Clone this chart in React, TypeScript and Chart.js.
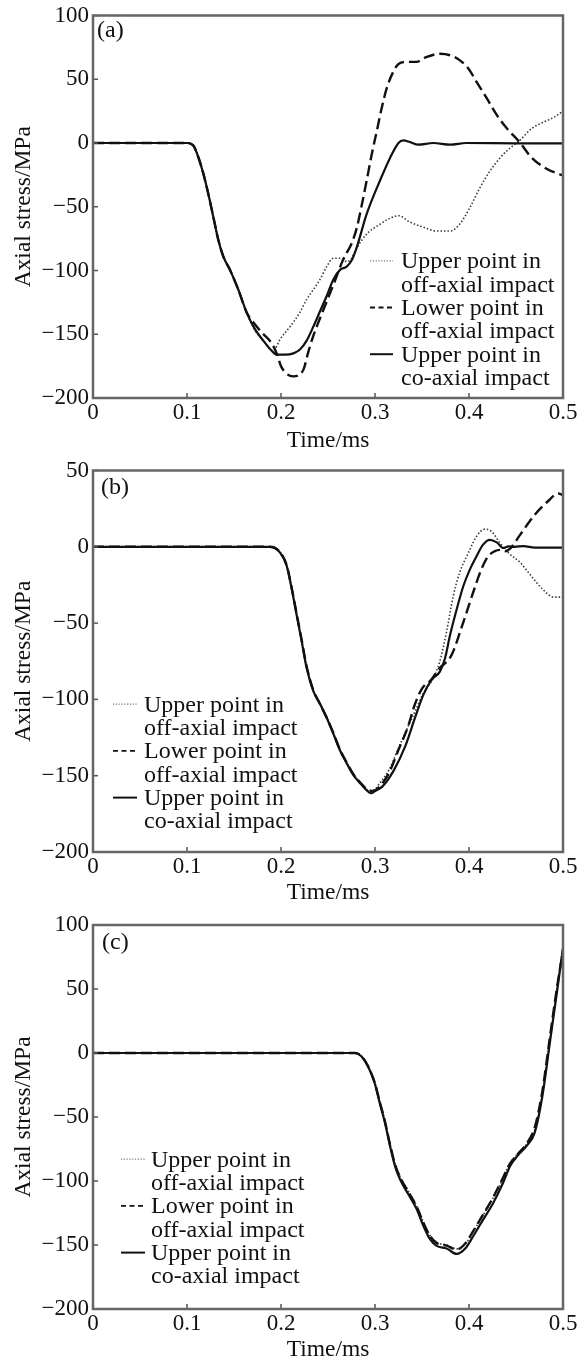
import React, { useEffect, useRef } from "react";
import { Chart, registerables } from "chart.js";

Chart.register(...registerables);

type Pt = [number, number];

const FONT = "'Liberation Serif', 'Times New Roman', serif";

const X_TICKS = [0, 0.1, 0.2, 0.3, 0.4, 0.5];
const X_TITLE = "Time/ms";
const Y_TITLE = "Axial stress/MPa";
const LEGEND_TEXT: [string, string][] = [
  ["Upper point in", "off-axial impact"],
  ["Lower point in", "off-axial impact"],
  ["Upper point in", "co-axial impact"],
];
const PANEL_LABELS = ["(a)", "(b)", "(c)"];

// ---------- Panel (a) ----------
const A_UP_OFF: Pt[] = [
  [0, 0], [0.05, 0], [0.1, 0], [0.1067, -2], [0.112, -11], [0.1174, -24], [0.1227, -40],
  [0.128, -58], [0.1333, -76], [0.1386, -89], [0.1457, -99.5], [0.1546, -115], [0.1635, -133],
  [0.1723, -147], [0.18, -154], [0.1918, -163], [0.199, -154], [0.2096, -144], [0.22, -133],
  [0.227, -123], [0.2344, -115], [0.2415, -107], [0.2486, -97], [0.2557, -90.4], [0.2628, -90.4],
  [0.27, -93], [0.2745, -91], [0.28, -83], [0.291, -71.5], [0.3053, -63.7], [0.316, -59],
  [0.325, -57], [0.337, -62], [0.3514, -66], [0.3656, -69], [0.38, -69], [0.39, -63.7],
  [0.401, -50.6], [0.4117, -35], [0.4223, -22], [0.433, -11.7], [0.442, -5], [0.454, 2],
  [0.466, 11], [0.478, 16], [0.49, 20], [0.5, 25],
];
const A_LOW_OFF: Pt[] = [
  [0, 0], [0.05, 0], [0.1, 0], [0.1067, -2], [0.112, -11], [0.1174, -24], [0.1227, -40],
  [0.128, -58], [0.1333, -76], [0.1386, -89], [0.1457, -99.5], [0.1546, -115], [0.1635, -133],
  [0.172, -142], [0.18, -149], [0.19, -157], [0.1954, -165], [0.2, -175], [0.206, -181],
  [0.213, -183], [0.2237, -178], [0.229, -164], [0.234, -152], [0.238, -144], [0.245, -131],
  [0.252, -118], [0.259, -105], [0.2646, -94], [0.27, -86], [0.275, -79], [0.2805, -67],
  [0.285, -52], [0.291, -30], [0.2965, -9], [0.3018, 9], [0.307, 27], [0.3125, 43],
  [0.3195, 56], [0.325, 62], [0.3337, 63.6], [0.344, 63.6], [0.355, 67.5], [0.369, 70],
  [0.38, 68.8], [0.39, 65], [0.3993, 58.4], [0.408, 48], [0.419, 35], [0.4295, 22],
  [0.44, 11.7], [0.454, 0.5], [0.466, -11], [0.482, -20], [0.5, -25.5],
];
const A_CO: Pt[] = [
  [0, 0], [0.05, 0], [0.1, 0], [0.1067, -2], [0.112, -11], [0.1174, -24], [0.1227, -40],
  [0.128, -58], [0.1333, -76], [0.1386, -89], [0.1457, -99.5], [0.1546, -115], [0.1635, -133],
  [0.1723, -146], [0.1812, -155], [0.1901, -163], [0.1954, -166], [0.205, -166], [0.2131, -165],
  [0.2202, -162], [0.2273, -155], [0.2344, -144], [0.2415, -132], [0.2486, -120], [0.2557, -107],
  [0.2628, -99.5], [0.2699, -97], [0.2752, -92], [0.2805, -82], [0.291, -56], [0.305, -30],
  [0.316, -11.7], [0.325, 0], [0.33, 2], [0.337, 0.8], [0.346, -1.3], [0.362, 0], [0.38, -1.3],
  [0.397, 0], [0.45, -0.3], [0.5, -0.3],
];

// ---------- Panel (b) ----------
const B_UP_OFF: Pt[] = [
  [0, 0], [0.1, 0], [0.188, 0], [0.199, -3.5], [0.206, -12], [0.2114, -27], [0.2167, -44.5],
  [0.222, -61.5], [0.2273, -79], [0.2344, -94], [0.2415, -102.5], [0.2486, -111.5],
  [0.2557, -122], [0.2628, -133], [0.27, -141.5], [0.277, -149], [0.2858, -155.5],
  [0.2929, -159.5], [0.298, -159.5], [0.305, -155], [0.315, -146], [0.325, -132], [0.335, -118],
  [0.3426, -108], [0.3514, -96], [0.362, -86], [0.369, -75], [0.376, -56], [0.383, -33],
  [0.39, -17], [0.3993, -4], [0.408, 6.8], [0.417, 11.6], [0.424, 10], [0.433, 2.5],
  [0.442, -4], [0.4545, -10.3], [0.466, -19], [0.478, -27.6], [0.49, -33], [0.5, -33],
];
const B_LOW_OFF: Pt[] = [
  [0, 0], [0.1, 0], [0.188, 0], [0.199, -3.5], [0.206, -12], [0.2114, -27], [0.2167, -44],
  [0.222, -61], [0.2273, -78.5], [0.2344, -94], [0.2415, -103], [0.2486, -112], [0.2557, -122],
  [0.2628, -133], [0.27, -141.5], [0.277, -149], [0.2858, -155.5], [0.2929, -159.5],
  [0.298, -160], [0.305, -157], [0.315, -148], [0.325, -133], [0.335, -118], [0.342, -104],
  [0.35, -93], [0.36, -87], [0.368, -80], [0.3814, -71], [0.392, -53], [0.399, -40],
  [0.406, -27], [0.413, -15], [0.42, -6.5], [0.427, -3], [0.433, -2], [0.438, -3],
  [0.444, -1], [0.4545, 8], [0.47, 21], [0.486, 31], [0.494, 35], [0.5, 34],
];
const B_CO: Pt[] = [
  [0, 0], [0.1, 0], [0.188, 0], [0.199, -3.8], [0.206, -12.4], [0.2114, -27.6], [0.2167, -44.9],
  [0.222, -62], [0.2273, -79.5], [0.2344, -94.6], [0.2415, -103], [0.2486, -112],
  [0.2557, -122.6], [0.2628, -133.5], [0.27, -142], [0.277, -149.7], [0.2858, -156],
  [0.2929, -160.5], [0.296, -161.5], [0.3, -160], [0.308, -157], [0.32, -146.5], [0.332, -131],
  [0.3426, -112], [0.3514, -97], [0.3603, -87], [0.369, -81.8], [0.3745, -73], [0.3798, -58],
  [0.387, -40.8], [0.394, -25.7], [0.401, -14.8], [0.408, -6.2], [0.415, 1.4], [0.422, 4.6],
  [0.4295, 2.9], [0.4365, -0.8], [0.442, 0.3], [0.4485, 0], [0.458, 0.5], [0.47, -0.5],
  [0.5, -0.5],
];

// ---------- Panel (c) ----------
const C_UP_OFF: Pt[] = [
  [0, 0], [0.1, 0], [0.2, 0], [0.2787, 0], [0.2855, -2.4], [0.2925, -10], [0.2996, -22.5],
  [0.305, -37.5], [0.3106, -53], [0.316, -71], [0.3213, -86.5], [0.3266, -96.5], [0.3355, -108],
  [0.3443, -119.5], [0.3514, -132], [0.3585, -142.5], [0.3656, -148], [0.3762, -150],
  [0.3869, -153], [0.3957, -149.5], [0.4046, -139.5], [0.4152, -126.5], [0.4259, -113],
  [0.4365, -97.5], [0.4436, -86], [0.452, -78.5], [0.462, -70.5], [0.47, -60], [0.478, -32],
  [0.486, 10], [0.494, 52], [0.5, 84],
];
const C_LOW_OFF: Pt[] = [
  [0, 0], [0.1, 0], [0.2, 0], [0.2787, 0], [0.2855, -2.5], [0.2925, -10.2], [0.2996, -23],
  [0.305, -38], [0.3106, -53.5], [0.316, -71.5], [0.3213, -87], [0.3266, -97], [0.3355, -108.5],
  [0.3443, -120], [0.3514, -132.5], [0.3585, -143], [0.3656, -148.5], [0.3762, -150.5],
  [0.3869, -153.5], [0.3957, -149], [0.4046, -139], [0.4152, -126], [0.4259, -112.5],
  [0.4365, -97], [0.4436, -86.5], [0.452, -79], [0.462, -70], [0.47, -58], [0.478, -30],
  [0.486, 12], [0.494, 53], [0.5, 80],
];
const C_CO: Pt[] = [
  [0, 0], [0.1, 0], [0.2, 0], [0.2787, 0], [0.2855, -2.6], [0.2925, -10.4], [0.2996, -23.4],
  [0.305, -39], [0.3106, -54.5], [0.316, -72.8], [0.3213, -88.4], [0.3266, -98.7],
  [0.3355, -110.4], [0.3443, -122], [0.3514, -135], [0.3585, -145.5], [0.3656, -150.7],
  [0.3762, -152.7], [0.3869, -157], [0.3957, -153], [0.4046, -143], [0.4152, -130],
  [0.4259, -117], [0.4365, -101], [0.4436, -88.4], [0.452, -80], [0.462, -72], [0.47, -62],
  [0.478, -34], [0.486, 8], [0.494, 50], [0.5, 82],
];

// ---------- layout / styles ----------
type PanelCfg = {
  label: string;
  series: Pt[][];
  yMin: number;
  yMax: number;
  top: number;
  height: number;
  padTop: number;
  xAxisH: number;
  titlePb: number;
  labelX: number;
  labelY: number;
  legX0: number;
  legX1: number;
  legTx: number;
  legBase: number;
};

const PANELS: PanelCfg[] = [
  {
    label: PANEL_LABELS[0], series: [A_UP_OFF, A_LOW_OFF, A_CO], yMin: -200, yMax: 100,
    top: 0, height: 455, padTop: 14, xAxisH: 57, titlePb: 2,
    labelX: 97, labelY: 37, legX0: 370, legX1: 393, legTx: 401, legBase: 268.3,
  },
  {
    label: PANEL_LABELS[1], series: [B_UP_OFF, B_LOW_OFF, B_CO], yMin: -200, yMax: 50,
    top: 455, height: 450, padTop: 12, xAxisH: 53, titlePb: 0,
    labelX: 101, labelY: 39, legX0: 113, legX1: 137, legTx: 144, legBase: 256.7,
  },
  {
    label: PANEL_LABELS[2], series: [C_UP_OFF, C_LOW_OFF, C_CO], yMin: -200, yMax: 100,
    top: 905, height: 456, padTop: 20, xAxisH: 52, titlePb: -1,
    labelX: 102, labelY: 44, legX0: 121, legX1: 145, legTx: 151, legBase: 261.7,
  },
];

const LINE_STYLES = [
  { color: "#3a3a3a", width: 1.6, dash: [1.5, 2.0], order: 2 },
  { color: "#111111", width: 2.4, dash: [11, 5], order: 1 },
  { color: "#111111", width: 2.2, dash: [] as number[], order: 0 },
];
const LEGEND_STYLES = [
  { color: "#777777", width: 1.2, dash: [1.2, 1.6] },
  { color: "#111111", width: 1.8, dash: [5, 3.5] },
  { color: "#111111", width: 2.0, dash: [] as number[] },
];
const LINE_GAP = 23.35;

const decorPlugin = {
  id: "panelDecor",
  afterDraw(chart: any, _args: any, opts: any) {
    const { ctx } = chart;
    const { left, right, top, bottom } = chart.chartArea;
    const xs = chart.scales.x;
    const ys = chart.scales.y;
    ctx.save();
    ctx.setLineDash([]);
    ctx.strokeStyle = "#555";
    ctx.lineWidth = 1.5;
    xs.ticks.forEach((t: any) => {
      const px = xs.getPixelForValue(t.value);
      ctx.beginPath();
      ctx.moveTo(px, bottom);
      ctx.lineTo(px, bottom - 5);
      ctx.stroke();
    });
    ys.ticks.forEach((t: any) => {
      const py = ys.getPixelForValue(t.value);
      ctx.beginPath();
      ctx.moveTo(left, py);
      ctx.lineTo(left + 5, py);
      ctx.stroke();
    });
    ctx.strokeStyle = "#666";
    ctx.lineWidth = 2.5;
    ctx.strokeRect(left, top, right - left, bottom - top);

    ctx.fillStyle = "#111";
    ctx.font = `24px ${FONT}`;
    ctx.textAlign = "left";
    ctx.textBaseline = "alphabetic";
    ctx.fillText(opts.label, opts.labelX, opts.labelY);

    LEGEND_TEXT.forEach((lines, i) => {
      const base = opts.legBase + i * 2 * LINE_GAP;
      const st = LEGEND_STYLES[i];
      ctx.save();
      ctx.strokeStyle = st.color;
      ctx.lineWidth = st.width;
      ctx.setLineDash(st.dash);
      ctx.beginPath();
      ctx.moveTo(opts.legX0, base - 7.5);
      ctx.lineTo(opts.legX1, base - 7.5);
      ctx.stroke();
      ctx.restore();
      ctx.fillStyle = "#111";
      ctx.fillText(lines[0], opts.legTx, base);
      ctx.fillText(lines[1], opts.legTx, base + LINE_GAP);
    });
    ctx.restore();
  },
};

function Panel({ cfg }: { cfg: PanelCfg }) {
  const ref = useRef<HTMLCanvasElement>(null);
  useEffect(() => {
    const canvas = ref.current;
    if (!canvas) return;
    const chart = new Chart(canvas, {
      type: "line",
      data: {
        datasets: cfg.series.map((pts, i) => ({
          label: LEGEND_TEXT[i].join(" "),
          data: pts.map(([x, y]) => ({ x, y })),
          borderColor: LINE_STYLES[i].color,
          borderWidth: LINE_STYLES[i].width,
          borderDash: LINE_STYLES[i].dash,
          order: LINE_STYLES[i].order,
          cubicInterpolationMode: "monotone",
          pointRadius: 0,
          fill: false,
        })),
      },
      options: {
        animation: false,
        responsive: false,
        maintainAspectRatio: false,
        layout: { padding: { left: 0, right: 19, top: cfg.padTop, bottom: 0 } },
        plugins: {
          legend: { display: false },
          tooltip: { enabled: false },
          panelDecor: {
            label: cfg.label, labelX: cfg.labelX, labelY: cfg.labelY,
            legX0: cfg.legX0, legX1: cfg.legX1, legTx: cfg.legTx, legBase: cfg.legBase,
          },
        } as any,
        scales: {
          x: {
            type: "linear",
            min: 0,
            max: 0.5,
            afterBuildTicks: (s: any) => {
              s.ticks = X_TICKS.map((v) => ({ value: v }));
            },
            afterFit: (s: any) => {
              s.height = cfg.xAxisH;
            },
            grid: { display: false, drawTicks: false },
            border: { display: false },
            ticks: {
              padding: 3,
              autoSkip: false,
              maxRotation: 0,
              color: "#111",
              font: { family: FONT, size: 23, lineHeight: 1 },
              callback: (v: any) => (Number(v) === 0 ? "0" : Number(v).toFixed(1)),
            },
            title: {
              display: true,
              text: X_TITLE,
              color: "#111",
              font: { family: FONT, size: 23.5, lineHeight: 1 },
              padding: { top: 0, bottom: cfg.titlePb },
            },
          },
          y: {
            type: "linear",
            min: cfg.yMin,
            max: cfg.yMax,
            afterFit: (s: any) => {
              s.width = 93;
            },
            grid: { display: false, drawTicks: false },
            border: { display: false },
            ticks: {
              stepSize: 50,
              padding: 4,
              color: "#111",
              font: { family: FONT, size: 23, lineHeight: 1 },
              callback: (v: any) => String(v).replace("-", "\u2212"),
            },
            title: {
              display: true,
              text: Y_TITLE,
              color: "#111",
              font: { family: FONT, size: 23.5, lineHeight: 1 },
              padding: { top: 12, bottom: 0 },
            },
          },
        },
      } as any,
      plugins: [decorPlugin as any],
    });
    return () => chart.destroy();
  }, [cfg]);
  return (
    <div style={{ position: "absolute", left: 0, top: cfg.top, width: 582, height: cfg.height }}>
      <canvas ref={ref} width={582} height={cfg.height} style={{ display: "block" }} />
    </div>
  );
}

export default function App() {
  return (
    <div
      style={{
        position: "absolute",
        left: 0,
        top: 0,
        width: 582,
        height: 1361,
        background: "#fff",
        overflow: "hidden",
      }}
    >
      {PANELS.map((cfg, i) => (
        <Panel key={i} cfg={cfg} />
      ))}
    </div>
  );
}
